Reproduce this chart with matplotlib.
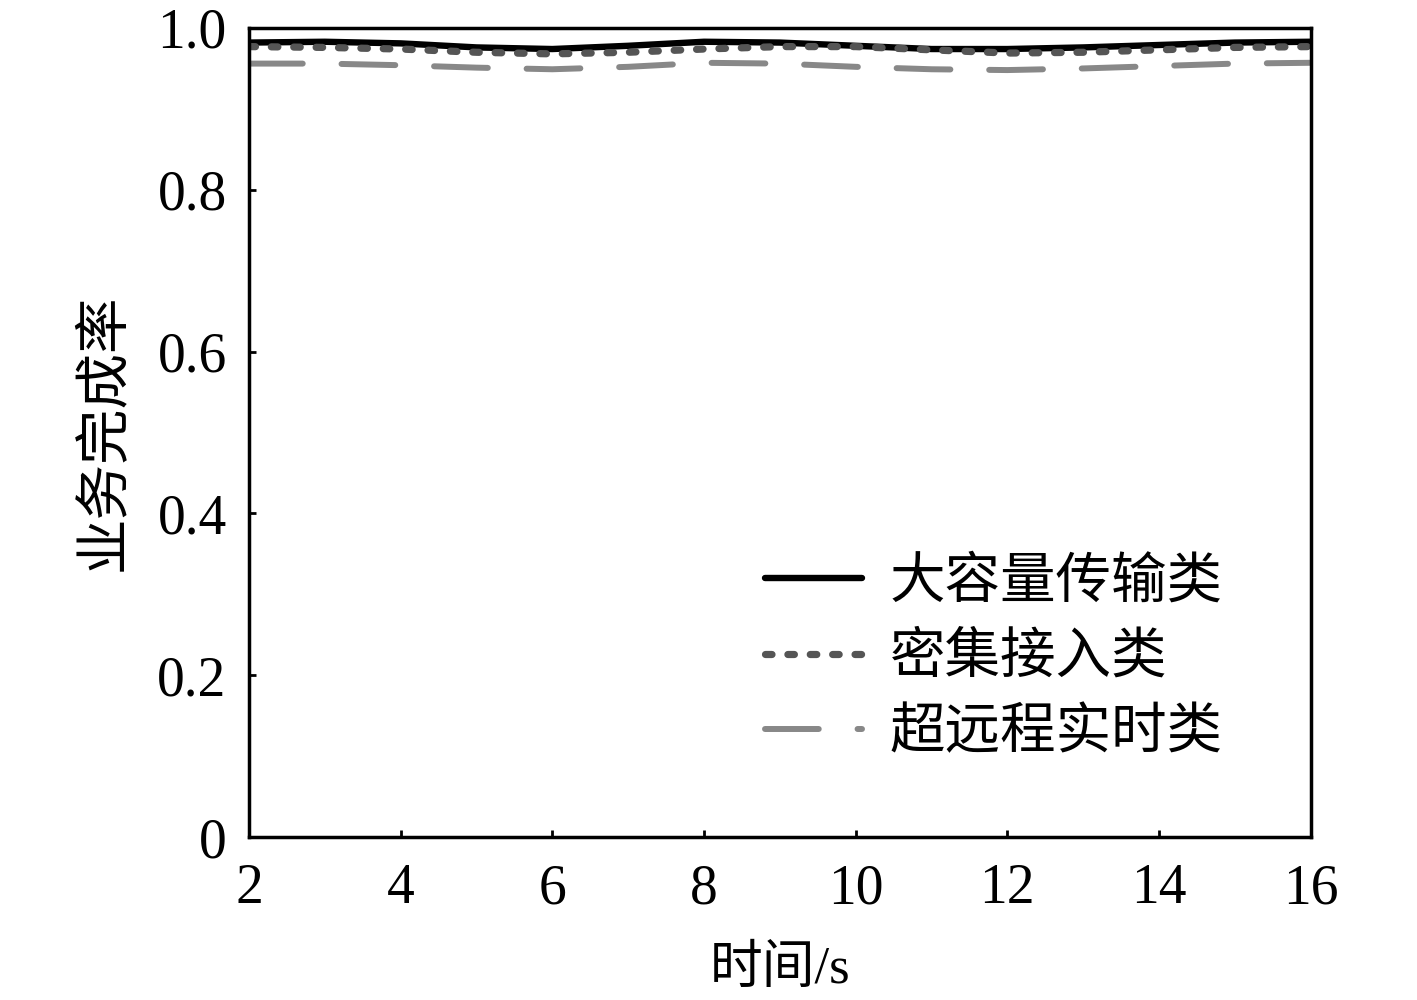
import matplotlib
matplotlib.use("Agg")
import matplotlib.pyplot as plt
import numpy as np

plt.rcParams['font.family'] = ['Liberation Serif', 'Noto Sans CJK SC']
plt.rcParams['mathtext.fontset'] = 'stix'

# data
t = [2, 3, 4, 5, 6, 7, 8, 9, 10, 11, 12, 13, 14, 15, 16]
bulk = [0.982, 0.983, 0.981, 0.976, 0.974, 0.978, 0.983, 0.982, 0.978, 0.974, 0.974, 0.976, 0.979, 0.982, 0.983]
dense = [0.977, 0.976, 0.974, 0.970, 0.968, 0.970, 0.974, 0.977, 0.977, 0.973, 0.969, 0.970, 0.973, 0.976, 0.977]
remote = [0.956, 0.956, 0.954, 0.951, 0.949, 0.952, 0.957, 0.956, 0.952, 0.949, 0.948, 0.950, 0.953, 0.956, 0.957]
labels = ['大容量传输类', '密集接入类', '超远程实时类']

fig = plt.figure(figsize=(14.17, 10), dpi=100)
ax = fig.add_axes([0.1757, 0.163, 0.7493, 0.809])

ax.plot(t, bulk, color='black', lw=4.6, solid_capstyle='round', label=labels[0])
ax.plot(t, dense, color='#555555', lw=5.2, linestyle=(0, (0.9, 2.2)),
        dash_capstyle='round', label=labels[1])
ax.plot(t, remote, color='#888888', lw=4.3, linestyle=(0, (9, 6.5)),
        dash_capstyle='round', label=labels[2])

ax.set_xlim(2, 16)
ax.set_ylim(0, 1.0)
ax.set_xticks(range(2, 17, 2))
ax.set_yticks([0, 0.2, 0.4, 0.6, 0.8, 1.0])
ax.set_yticklabels(['0', '0.2', '0.4', '0.6', '0.8', '1.0'])
ax.tick_params(direction='in', length=5, width=2, labelsize=40, top=False, right=False)
ax.tick_params(axis='x', pad=19)
ax.tick_params(axis='y', pad=16)
for s in ax.spines.values():
    s.set_linewidth(2.5)

ax.set_xlabel('时间/s', fontsize=38, labelpad=22)
ax.set_ylabel('业务完成率', fontsize=40, labelpad=18)

leg = ax.legend(loc='center left', bbox_to_anchor=(0.486, 0.22), frameon=False,
                fontsize=40, handlelength=1.75, handletextpad=0.5, labelspacing=0.42,
                borderpad=0, borderaxespad=0)

fig.savefig('out.png', dpi=100)
